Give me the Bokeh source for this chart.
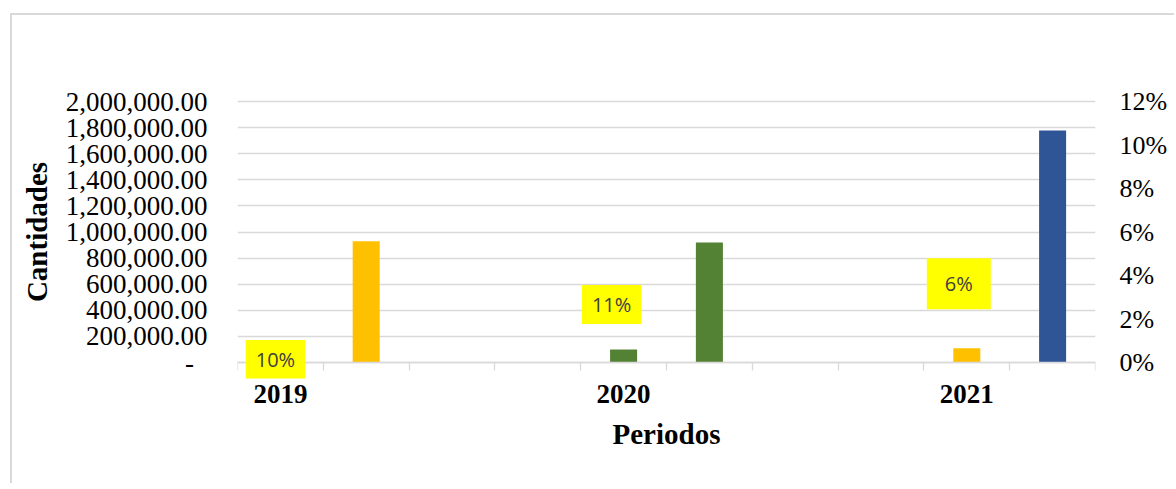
from bokeh.plotting import figure
from bokeh.models import Range1d, LinearAxis, FixedTicker, NumeralTickFormatter, Label
from bokeh.embed import file_html
from bokeh.resources import INLINE

# ---- data ----
slot_labels = ["2019", "", "", "", "2020", "", "", "", "2021", ""]
orange_vals = [0, 930000, 0, 0, 0, 0, 0, 0, 110000, 0]
green_vals = [0, 0, 0, 0, 100000, 920000, 0, 0, 0, 0]
blue_vals = [0, 0, 0, 0, 0, 0, 0, 0, 0, 1778000]
pct_labels = ["10%", "11%", "6%"]
pct_slots = [0, 4, 8]
left_ticks = [0, 200000, 400000, 600000, 800000, 1000000, 1200000, 1400000, 1600000, 1800000, 2000000]
right_ticks = [0, 0.02, 0.04, 0.06, 0.08, 0.10, 0.12]

# label anchor positions (on the percent axis) and pixel nudges
label_y = [0.0014, 0.0267, 0.0362]
label_dx = [-5, -12, -8]
label_pad = [(10, 6), (10, 6), (18, 12)]

n = len(slot_labels)
xs = [i + 0.5 for i in range(n)]

# frame padded 16px above the top tick and below zero so labels are not clipped
LEFT_MAX = 2000000
PCT_MAX = 0.12
pad_frac = 16 / 261
p = figure(width=1164, height=470, x_range=Range1d(0, n),
           y_range=Range1d(-LEFT_MAX * pad_frac, LEFT_MAX * (1 + pad_frac)),
           output_backend="svg", toolbar_location=None,
           min_border_left=225, min_border_right=81, min_border_top=70, min_border_bottom=107,
           margin=(13, 0, 0, 10))
p.styles = {"border-top": "2px solid #D9D9D9", "border-left": "2px solid #D9D9D9"}
p.outline_line_color = None
p.background_fill_color = "white"
p.border_fill_color = "white"
p.xgrid.visible = False
p.ygrid.grid_line_color = "#D9D9D9"
p.ygrid.grid_line_width = 1.3
p.ygrid.ticker = FixedTicker(ticks=left_ticks)

serif = "Liberation Serif"

# left axis
ya = p.yaxis[0]
ya.ticker = FixedTicker(ticks=left_ticks)
ya.formatter = NumeralTickFormatter(format="0,0.00")
ya.major_label_overrides = {0: "-\u00a0\u00a0"}
ya.axis_line_color = None
ya.major_tick_line_color = None
ya.minor_tick_line_color = None
ya.major_tick_out = 0
ya.major_tick_in = 0
ya.major_label_standoff = 30
ya.major_label_text_font = serif
ya.major_label_text_font_size = "27px"
ya.major_label_text_color = "#000000"
ya.axis_label = "Cantidades"
ya.axis_label_text_font = serif
ya.axis_label_text_font_size = "29px"
ya.axis_label_text_font_style = "bold"
ya.axis_label_text_color = "#000000"
ya.axis_label_standoff = 10

# right axis
p.extra_y_ranges = {"pct": Range1d(-PCT_MAX * pad_frac, PCT_MAX * (1 + pad_frac))}
ra = LinearAxis(y_range_name="pct", ticker=FixedTicker(ticks=right_ticks),
                formatter=NumeralTickFormatter(format="0%"))
ra.axis_line_color = None
ra.major_tick_line_color = None
ra.minor_tick_line_color = None
ra.major_tick_out = 0
ra.major_tick_in = 0
ra.major_label_standoff = 24
ra.major_label_text_font = serif
ra.major_label_text_font_size = "26px"
ra.major_label_text_color = "#000000"
p.add_layout(ra, "right")

# bottom axis: labels only (sits at the frame bottom)
year_ticks = [i + 0.5 for i, s in enumerate(slot_labels) if s]
xa = p.xaxis[0]
xa.ticker = FixedTicker(ticks=year_ticks)
xa.major_label_overrides = {i + 0.5: s for i, s in enumerate(slot_labels) if s}
xa.axis_line_color = None
xa.major_tick_line_color = None
xa.minor_tick_line_color = None
xa.major_tick_out = 0
xa.major_tick_in = 0
xa.major_label_standoff = 6
xa.major_label_text_font = serif
xa.major_label_text_font_size = "27px"
xa.major_label_text_font_style = "bold"
xa.major_label_text_color = "#000000"
xa.axis_label = "Periodos"
xa.axis_label_text_font = serif
xa.axis_label_text_font_size = "29px"
xa.axis_label_text_font_style = "bold"
xa.axis_label_text_color = "#000000"
xa.axis_label_standoff = 12

# baseline axis at zero: line and category boundary ticks
edges = list(range(n + 1))
xb = LinearAxis(fixed_location=0, ticker=FixedTicker(ticks=edges),
                major_label_overrides={e: "" for e in edges})
xb.axis_line_color = "#D9D9D9"
xb.axis_line_width = 1.3
xb.major_tick_line_color = "#D9D9D9"
xb.major_tick_line_width = 1.3
xb.major_tick_out = 8
xb.major_tick_in = 0
xb.minor_tick_line_color = None
xb.major_label_text_font_size = "0px"
p.add_layout(xb, "below")

# bars
bw = 0.315
p.vbar(x=xs, top=orange_vals, width=bw, fill_color="#FFC000", line_color=None)
p.vbar(x=xs, top=green_vals, width=bw, fill_color="#548235", line_color=None)
p.vbar(x=xs, top=blue_vals, width=bw, fill_color="#2F5597", line_color=None)

# percentage labels
for i in range(len(pct_labels)):
    lab = Label(x=pct_slots[i] + 0.5, y=label_y[i], text=pct_labels[i], y_range_name="pct",
                x_offset=label_dx[i], text_align="center", text_baseline="middle",
                text_font="Open Sans", text_font_size="20px", text_color="#404040",
                background_fill_color="#FFFF00", padding=label_pad[i])
    p.add_layout(lab)

open("out.html", "w").write(file_html(p, INLINE))
